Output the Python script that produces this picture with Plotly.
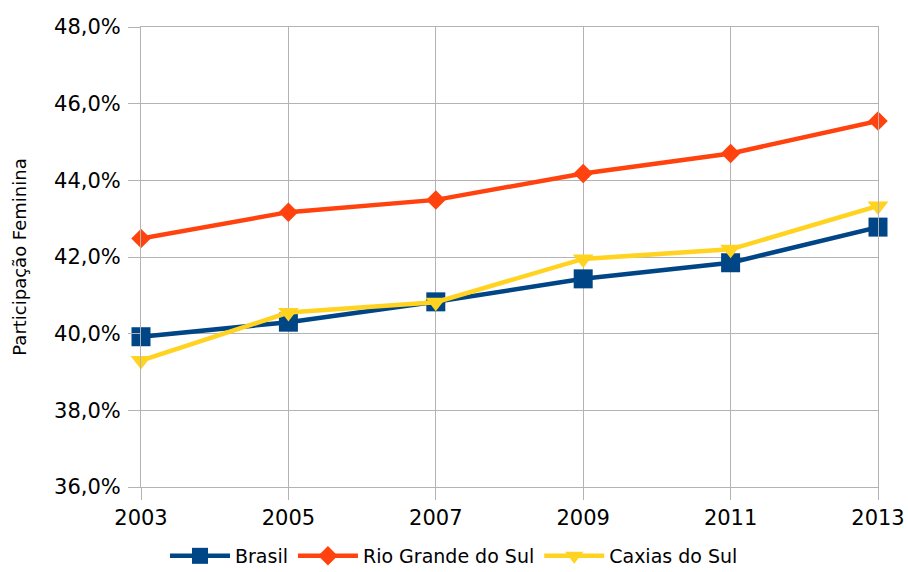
import plotly.graph_objects as go

years = [2003, 2005, 2007, 2009, 2011, 2013]
brasil = [39.92, 40.30, 40.83, 41.43, 41.85, 42.78]
rio_grande = [42.48, 43.17, 43.49, 44.18, 44.70, 45.55]
caxias = [39.30, 40.55, 40.82, 41.95, 42.20, 43.33]

series = [
    ("Brasil", brasil, "#004586", "square", 19),
    ("Rio Grande do Sul", rio_grande, "#ff420e", "diamond", 15),
    ("Caxias do Sul", caxias, "#ffd320", "triangle-down", 18),
]

fig = go.Figure()
for name, vals, color, symbol, size in series:
    fig.add_trace(go.Scatter(
        x=years, y=vals, name=name, mode="lines+markers",
        line=dict(color=color, width=4.5),
        marker=dict(symbol=symbol, size=size, color=color),
        cliponaxis=False,
    ))

FONT = "DejaVu Sans"
tick_font = dict(family=FONT, size=21, color="#000000")
grid = "#b3b3b3"

fig.update_layout(
    width=908, height=572,
    margin=dict(l=141, r=30, t=27, b=85),
    paper_bgcolor="white", plot_bgcolor="white",
    separators=",.",
    font=dict(family=FONT, color="#000000"),
    showlegend=True,
    legend=dict(
        orientation="h", xref="container", yref="container",
        x=0.5, xanchor="center", y=0.028, yanchor="middle",
        font=dict(family=FONT, size=19, color="#000000"),
        itemwidth=60,
    ),
    xaxis=dict(
        range=[2003, 2013], tickvals=years, automargin=False,
        showgrid=True, gridcolor=grid, gridwidth=1,
        showline=True, linecolor=grid, mirror=True,
        ticks="outside", ticklen=12, tickcolor=grid,
        tickfont=tick_font, zeroline=False,
    ),
    yaxis=dict(
        range=[36, 48], dtick=2, tick0=36, automargin=False,
        tickformat=".1f", ticksuffix="%",
        showgrid=True, gridcolor=grid, gridwidth=1,
        showline=True, linecolor=grid, mirror=True,
        ticks="outside", ticklen=12, tickcolor=grid,
        ticklabelstandoff=3,
        tickfont=tick_font, zeroline=False,
        title=dict(text="Participação Feminina",
                   font=dict(family=FONT, size=18, color="#000000"),
                   standoff=22),
    ),
)

fig.write_html("out.html")
